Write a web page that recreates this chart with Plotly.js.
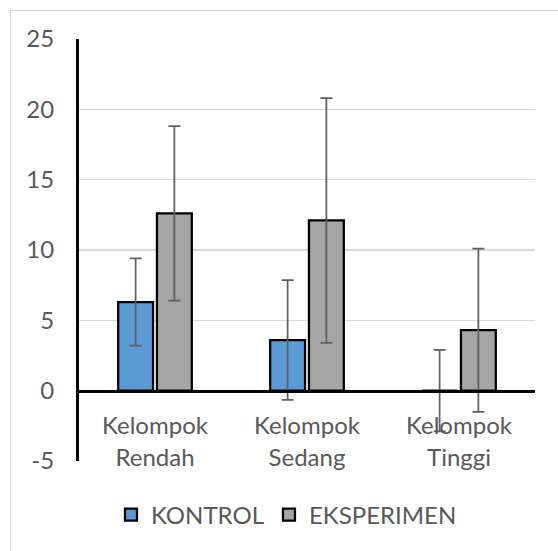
<!DOCTYPE html>
<html>
<head>
<meta charset="utf-8">
<script src="https://cdn.plot.ly/plotly-3.0.1.min.js"></script>
<style>
  html, body { margin: 0; padding: 0; background: #ffffff; }
  #wrap { position: relative; width: 558px; height: 551px; overflow: hidden; }
  #frame { position: absolute; left: 10px; top: 10px; width: 580px; height: 580px; border: 1.5px solid #d9d9d9; box-sizing: border-box; }
  #chart { position: absolute; left: 0; top: 0; width: 558px; height: 551px; }
</style>
</head>
<body>
<div id="wrap">
  <div id="frame"></div>
  <div id="chart"></div>
</div>
<script>
const categories = ["Kelompok<br>Rendah", "Kelompok<br>Sedang", "Kelompok<br>Tinggi"];
const kontrol = [6.3, 3.6, 0];
const kontrolErr = [3.1, 4.25, 2.9];
const eksperimen = [12.6, 12.1, 4.3];
const eksperimenErr = [6.2, 8.7, 5.8];
const yTicks = [-5, 0, 5, 10, 15, 20, 25];

const errStyle = { type: 'data', visible: true, color: '#5f5f5f', thickness: 1.75, width: 6 };

const traces = [
  {
    type: 'bar', name: 'KONTROL', x: categories, y: kontrol,
    marker: { color: '#5B9BD5', line: { color: '#000000', width: 2.25 } },
    error_y: Object.assign({ array: kontrolErr }, errStyle)
  },
  {
    type: 'bar', name: 'EKSPERIMEN', x: categories, y: eksperimen,
    marker: { color: '#A5A5A5', line: { color: '#000000', width: 2.25 } },
    error_y: Object.assign({ array: eksperimenErr }, errStyle)
  }
];

const layout = {
  width: 558, height: 551,
  margin: { l: 79, r: 23, t: 39, b: 90, pad: 0 },
  paper_bgcolor: 'rgba(0,0,0,0)',
  plot_bgcolor: 'rgba(0,0,0,0)',
  font: { family: 'Lato, "Open Sans", sans-serif', size: 24, color: '#595959' },
  barmode: 'group',
  bargap: 0.49,
  bargroupgap: 0.1,
  showlegend: true,
  legend: {
    orientation: 'h', x: 0.455, xanchor: 'center', y: -0.128, yanchor: 'middle',
    font: { size: 24, color: '#595959' }, itemwidth: 30, traceorder: 'normal'
  },
  xaxis: {
    type: 'category',
    anchor: 'free', position: 5 / 30,
    showline: true, linecolor: '#000000', linewidth: 3,
    showgrid: false, zeroline: false,
    ticks: 'outside', ticklen: 13, tickcolor: 'rgba(0,0,0,0)',
    tickfont: { size: 24, color: '#595959' }
  },
  yaxis: {
    range: [-5, 25], tickvals: yTicks, ticktext: yTicks.map(String),
    showline: true, linecolor: '#000000', linewidth: 3,
    showgrid: true, gridcolor: '#d9d9d9', gridwidth: 1.25,
    zeroline: false,
    ticks: 'outside', ticklen: 17, tickcolor: 'rgba(0,0,0,0)',
    tickfont: { size: 24, color: '#595959' }
  }
};

Plotly.newPlot('chart', traces, layout, { displayModeBar: false, staticPlot: true });
</script>
</body>
</html>
